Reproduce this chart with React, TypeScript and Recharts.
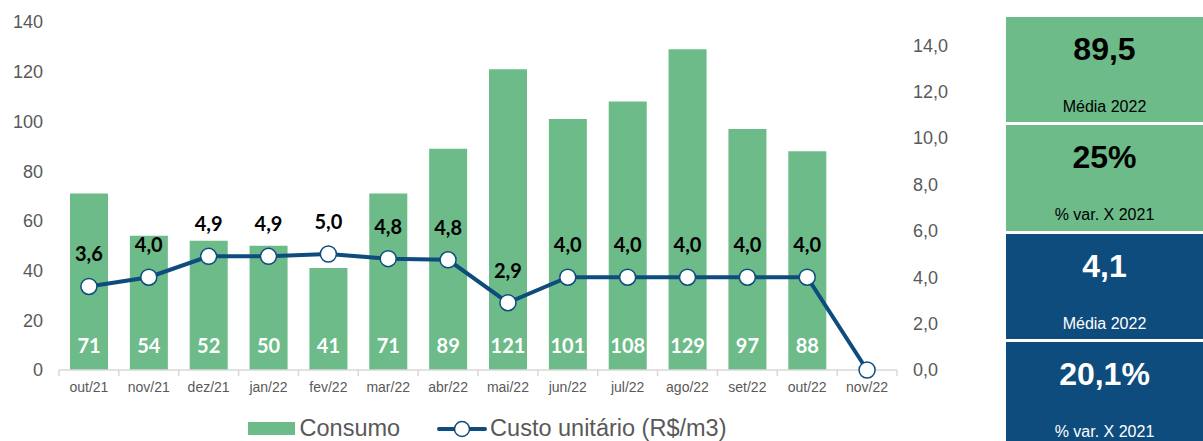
import { Bar, ComposedChart, LabelList, Legend, Line, XAxis, YAxis } from "recharts";

const months = ["out/21", "nov/21", "dez/21", "jan/22", "fev/22", "mar/22", "abr/22", "mai/22", "jun/22", "jul/22", "ago/22", "set/22", "out/22", "nov/22"];
const consumo = [71, 54, 52, 50, 41, 71, 89, 121, 101, 108, 129, 97, 88, null];
const custo = [3.6, 4.0, 4.9, 4.9, 5.0, 4.8, 4.75, 2.9, 4.0, 4.0, 4.0, 4.0, 4.0, 0];
const custoLabels = ["3,6", "4,0", "4,9", "4,9", "5,0", "4,8", "4,8", "2,9", "4,0", "4,0", "4,0", "4,0", "4,0", ""];
const leftTicks = [0, 20, 40, 60, 80, 100, 120, 140];
const rightTicks = [0, 2, 4, 6, 8, 10, 12, 14];

const cards = [
  { value: "89,5", label: "Média 2022", kind: "green" },
  { value: "25%", label: "% var. X 2021", kind: "green" },
  { value: "4,1", label: "Média 2022", kind: "blue" },
  { value: "20,1%", label: "% var. X 2021", kind: "blue" },
];

const GREEN = "#6cbb89";
const BLUE = "#0f4c7e";
const GRAY = "#595959";
const AXIS = "'Liberation Sans', Arial, sans-serif";
const LABEL = "Lato, 'Open Sans', sans-serif";

const CHART_W = 960;
const LEFT_W = 59;
const RIGHT_W = 63;
const BAND = (CHART_W - LEFT_W - RIGHT_W) / months.length;

const data = months.map((m, i) => ({ month: m, consumo: consumo[i], custo: custo[i], label: custoLabels[i] }));

const XTick = (props: any) => {
  const { x, y, payload, index } = props;
  const top = y - 8;
  return (
    <g>
      <line x1={x - BAND / 2} x2={x - BAND / 2} y1={top} y2={top + 6} stroke="#d9d9d9" strokeWidth={1.5} />
      {index === months.length - 1 && (
        <line x1={x + BAND / 2} x2={x + BAND / 2} y1={top} y2={top + 6} stroke="#d9d9d9" strokeWidth={1.5} />
      )}
      <text x={x} y={y + 14} textAnchor="middle" fill={GRAY} fontSize={14} fontFamily={AXIS}>
        {payload.value}
      </text>
    </g>
  );
};

const BarLabel = (props: any) => {
  const { x, y, width, height, value } = props;
  if (value == null) return null;
  return (
    <text x={x + width / 2} y={y + height - 17} textAnchor="middle" fill="#fff" fontSize={20} fontWeight={700} fontFamily={LABEL}>
      {value}
    </text>
  );
};

const LineLabel = (props: any) => {
  const { x, y, index } = props;
  const text = custoLabels[index];
  if (!text) return null;
  return (
    <text x={x} y={y - 25} textAnchor="middle" fill="#000" fontSize={20} fontWeight={700} fontFamily={LABEL}>
      {text}
    </text>
  );
};

const LegendContent = () => (
  <div
    style={{
      display: "flex",
      justifyContent: "center",
      alignItems: "center",
      height: 41,
      boxSizing: "border-box",
      paddingTop: 16,
      paddingLeft: 14,
      fontFamily: AXIS,
      fontSize: 23.5,
      lineHeight: "25px",
      color: GRAY,
    }}
  >
    <span style={{ display: "inline-block", width: 47, height: 13, background: GREEN, marginRight: 5 }} />
    <span style={{ marginRight: 37 }}>Consumo</span>
    <svg width={50} height={20} style={{ marginRight: 3 }}>
      <line x1={2} x2={48} y1={10} y2={10} stroke={BLUE} strokeWidth={4} strokeLinecap="round" />
      <circle cx={25} cy={10} r={7.5} fill="#fff" stroke={BLUE} strokeWidth={1.5} />
    </svg>
    <span>Custo unitário (R$/m3)</span>
  </div>
);

export default function App() {
  return (
    <div style={{ position: "absolute", left: 0, top: 0, width: 1203, height: 441, background: "#fff", overflow: "hidden" }}>
      <ComposedChart width={CHART_W} height={441} data={data} margin={{ top: 22, right: 0, bottom: 0, left: 0 }}>
        <XAxis
          dataKey="month"
          tick={<XTick />}
          tickLine={false}
          tickMargin={2}
          height={30}
          axisLine={{ stroke: "#d9d9d9", strokeWidth: 1.5 }}
          interval={0}
        />
        <YAxis
          yAxisId="left"
          domain={[0, 140]}
          ticks={leftTicks}
          width={LEFT_W}
          axisLine={false}
          tickLine={false}
          tickMargin={10}
          tick={{ fill: GRAY, fontSize: 18, fontFamily: AXIS }}
        />
        <YAxis
          yAxisId="right"
          orientation="right"
          domain={[0, 15]}
          ticks={rightTicks}
          width={RIGHT_W}
          axisLine={false}
          tickLine={false}
          tickMargin={10}
          tickFormatter={(v: number) => v.toFixed(1).replace(".", ",")}
          tick={{ fill: GRAY, fontSize: 18, fontFamily: AXIS, textAnchor: "start" }}
        />
        <Legend verticalAlign="bottom" height={41} content={<LegendContent />} />
        <Bar yAxisId="left" dataKey="consumo" fill={GREEN} barSize={38} isAnimationActive={false}>
          <LabelList dataKey="consumo" content={<BarLabel />} />
        </Bar>
        <Line
          yAxisId="right"
          dataKey="custo"
          stroke={BLUE}
          strokeWidth={4}
          dot={{ r: 8, fill: "#fff", stroke: BLUE, strokeWidth: 1.5 }}
          activeDot={false}
          isAnimationActive={false}
        >
          <LabelList dataKey="custo" content={<LineLabel />} />
        </Line>
      </ComposedChart>
      {cards.map((c, i) => (
        <div
          key={i}
          style={{
            position: "absolute",
            left: 1006,
            top: [17, 125, 234, 342][i],
            width: 197,
            height: [105, 106, 105, 99][i],
            background: c.kind === "green" ? GREEN : BLUE,
            color: c.kind === "green" ? "#000" : "#fff",
            fontFamily: AXIS,
            textAlign: "center",
          }}
        >
          <div style={{ position: "absolute", left: 0, right: 0, top: 10, fontSize: 32, fontWeight: 700, lineHeight: "44px" }}>{c.value}</div>
          <div style={{ position: "absolute", left: 0, right: 0, top: 79, fontSize: 16, lineHeight: "22px" }}>{c.label}</div>
        </div>
      ))}
    </div>
  );
}
